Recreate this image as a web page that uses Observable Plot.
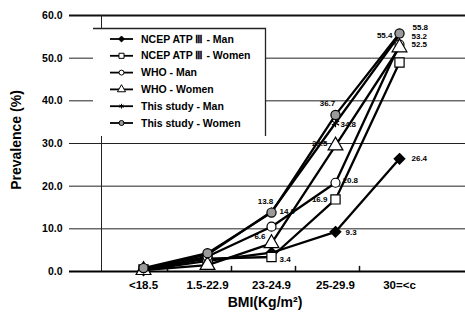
<!DOCTYPE html>
<html><head><meta charset="utf-8">
<script src="https://cdn.jsdelivr.net/npm/d3@7"></script>
<script src="https://cdn.jsdelivr.net/npm/@observablehq/plot@0.6"></script>
<style>
html,body{margin:0;padding:0;background:#fff;}
#chart{position:relative;width:465px;height:317px;}
svg text{font-family:"Liberation Sans",Arial,sans-serif;font-weight:bold;}
</style></head><body><div id="chart"></div>
<script>
const categories = ["<18.5","1.5-22.9","23-24.9","25-29.9","30=<c"];
const seriesNames = ["NCEP ATP Ⅲ - Man","NCEP ATP Ⅲ - Women","WHO - Man","WHO - Women","This study - Man","This study - Women"];
const ncepMan    = [0.3, 2.5, 4.4, 9.3, 26.4];
const ncepWomen  = [0.5, 3.0, 3.4, 16.9, 49.0];
const whoMan     = [0.3, 3.5, 10.5, 20.8, 53.2];
const whoWomen   = [0.3, 1.5, 6.6, 29.5, 52.5];
const studyMan   = [0.5, 4.0, 14.0, 34.8, 55.4];
const studyWomen = [0.8, 4.3, 13.8, 36.7, 55.8];
const yTicks = [0, 10, 20, 30, 40, 50, 60];
const boundaryCats = ["1.5-22.9","23-24.9","25-29.9","30=<c"];

// marker styles per series
const markerStyles = [
  {symbol: "diamond2", fill: "black", r: 4.8},
  {symbol: "square", fill: "white", r: 5.2},
  {symbol: "circle", fill: "white", r: 4.5},
  {symbol: "triangle", fill: "white", r: 5.5},
  {symbol: "asterisk", fill: "none", r: 4},
  {symbol: "circle", fill: "#9a9a9a", r: 4.6}
];
// which points carry a value label (series, category, dx, dy, anchor)
const labelSpecs = [
  [0, 3, 10, 1, "start"], [0, 4, 12, 0, "start"],
  [1, 2, 8, 2, "start"], [1, 3, -8, 0, "end"],
  [2, 3, 7, -2, "start"], [2, 4, 12, -8, "start"],
  [3, 2, -6, -7, "end"], [3, 3, -8, -2, "end"], [3, 4, 12, -3, "start"],
  [4, 2, 8, 0, "start"], [4, 3, 5, 1, "start"], [4, 4, -7, 0, "end"],
  [5, 2, -6, -11, "middle"], [5, 3, -8, -11, "middle"], [5, 4, 13, -6, "start"]
];

const allSeries = [ncepMan, ncepWomen, whoMan, whoWomen, studyMan, studyWomen];
const rows = [];
allSeries.forEach((vals, s) => vals.forEach((v, i) => rows.push({series: seriesNames[s], s, cat: categories[i], i, value: v})));
const labelRows = labelSpecs.map(([s, i, dx, dy, anchor]) => ({...rows.find(r => r.s === s && r.i === i), dx, dy, anchor}));

const marks = [
  Plot.ruleY(yTicks.filter(d => d > 0 && d < 60), {y: d => d, stroke: "#222", strokeWidth: 1}),
  Plot.ruleY([60], {stroke: "#111", strokeWidth: 2}),
  Plot.ruleX([0], {x: () => categories[0], dx: -42, y1: 0, y2: 60, stroke: "#222", strokeWidth: 1}),
  Plot.ruleX(boundaryCats, {x: d => d, dx: -40, y1: 0, y2: 1.2, stroke: "#111", strokeWidth: 1.5}),
  Plot.ruleY([0], {stroke: "#000", strokeWidth: 2}),
  Plot.axisY(yTicks, {tickSize: 0, tickPadding: 7, tickFormat: d3.format(".1f"), fontSize: 10.5, label: null}),
  Plot.axisX(categories, {tickSize: 0, tickPadding: 9, fontSize: 11.5, label: null}),
];
seriesNames.forEach((name, s) => {
  const data = rows.filter(r => r.s === s);
  marks.push(Plot.line(data, {x: "cat", y: "value", stroke: "black", strokeWidth: 2.3}));
});
seriesNames.forEach((name, s) => {
  const data = rows.filter(r => r.s === s);
  const m = markerStyles[s];
  marks.push(Plot.dot(data, {x: "cat", y: "value", symbol: () => m.symbol, r: m.r, fill: m.fill, stroke: "black", strokeWidth: 1.2}));
});
["start", "middle", "end"].forEach(anchor => {
  labelRows.filter(l => l.anchor === anchor).forEach(l => {
    marks.push(Plot.text([l], {x: "cat", y: "value", text: d => d.value.toFixed(1), dx: l.dx, dy: l.dy, textAnchor: anchor, fontSize: 8, fill: "black"}));
  });
});

const plot = Plot.plot({
  width: 465, height: 317,
  marginLeft: 69, marginRight: 0, marginTop: 15, marginBottom: 46,
  style: {fontFamily: "Liberation Sans, Arial, sans-serif", fontWeight: "bold", background: "white"},
  x: {type: "point", domain: categories, range: [111, 431]},
  y: {domain: [0, 60]},
  symbol: {type: "ordinal"},
  marks
});
document.getElementById("chart").appendChild(plot);

const svg = d3.select(plot);
svg.append("text").attr("x", 265).attr("y", 307).attr("text-anchor", "middle")
  .style("font-size", "14px").text("BMI(Kg/m²)");
svg.append("text").attr("transform", "translate(21,140) rotate(-90)").attr("text-anchor", "middle")
  .style("font-size", "14px").text("Prevalence (%)");

// legend
const lg = svg.append("g").attr("text-anchor", "start");
lg.append("rect").attr("x", 93).attr("y", 28).attr("width", 173).attr("height", 108).attr("fill", "white");
lg.append("path").attr("d", "M93,28.5H265.5V136").attr("fill", "none").attr("stroke", "#222").attr("stroke-width", 1.3);
const symMap = {diamond2: d3.symbolDiamond2, square: d3.symbolSquare, circle: d3.symbolCircle, triangle: d3.symbolTriangle, asterisk: d3.symbolAsterisk};
seriesNames.forEach((name, s) => {
  const y = 39 + s * 16.8;
  const m = markerStyles[s];
  lg.append("line").attr("x1", 110).attr("x2", 133).attr("y1", y).attr("y2", y).attr("stroke", "black").attr("stroke-width", 1.8);
  const r = m.r * 0.55;
  lg.append("path").attr("transform", `translate(121.5,${y})`)
    .attr("d", d3.symbol(symMap[m.symbol], Math.PI * r * r)())
    .attr("fill", m.fill).attr("stroke", "black").attr("stroke-width", 1);
  lg.append("text").attr("x", 141).attr("y", y).attr("dy", "0.35em").attr("text-anchor", "start")
    .style("font-size", "10.5px").text(name);
});
</script>
</body></html>
